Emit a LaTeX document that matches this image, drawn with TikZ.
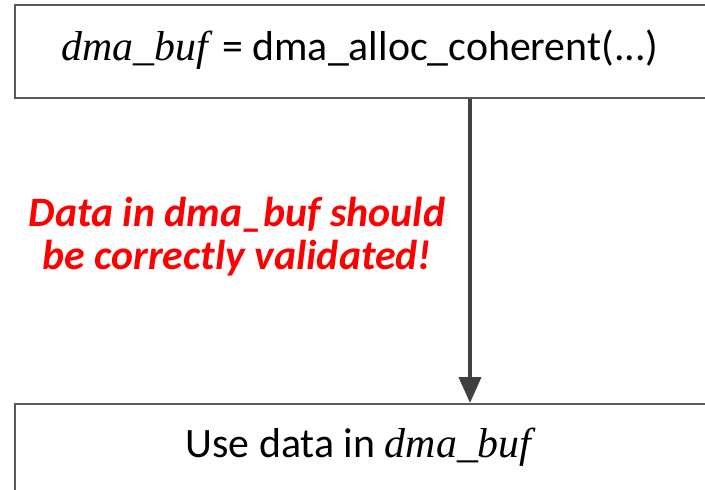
\documentclass[tikz,border=0pt]{standalone}
\usepackage{fontspec}
\setmainfont{Carlito}
\usetikzlibrary{arrows.meta}
\newcommand{\dmabuf}{\textit{\fontspec{Liberation Serif}dma\_buf}}
\begin{document}
\begin{tikzpicture}[x=1bp,y=-1bp,
  box/.style={draw=black!65, line width=2bp, minimum width=692bp, minimum height=93bp, anchor=north west, inner sep=0pt},
  label/.style={font=\fontsize{42}{44}\selectfont},
  warn/.style={text=red, font=\fontsize{42}{43}\selectfont\bfseries\itshape, align=center},
  flow/.style={draw=black!75, line width=4bp, -{Triangle[length=26bp,width=22bp]}}]
\useasboundingbox (0,0) rectangle (705,490);
\clip (0,0) rectangle (705,490);
\node[box] (alloc) at (14,4) {};
\node[label] (alloctext) at (360,50) {\dmabuf{} = dma\_alloc\_coherent(...)};
\node[box] (use) at (14,403) {};
\node[label] (usetext) at (361,447) {Use data in \dmabuf};
\coordinate (src) at (alloc.south -| 470,0);
\coordinate (dst) at (use.north -| 470,0);
\draw[flow] (src) -- (dst);
\node[warn] (note) at (237,237) {Data in dma\_buf should\\be correctly validated!};
\end{tikzpicture}
\end{document}
